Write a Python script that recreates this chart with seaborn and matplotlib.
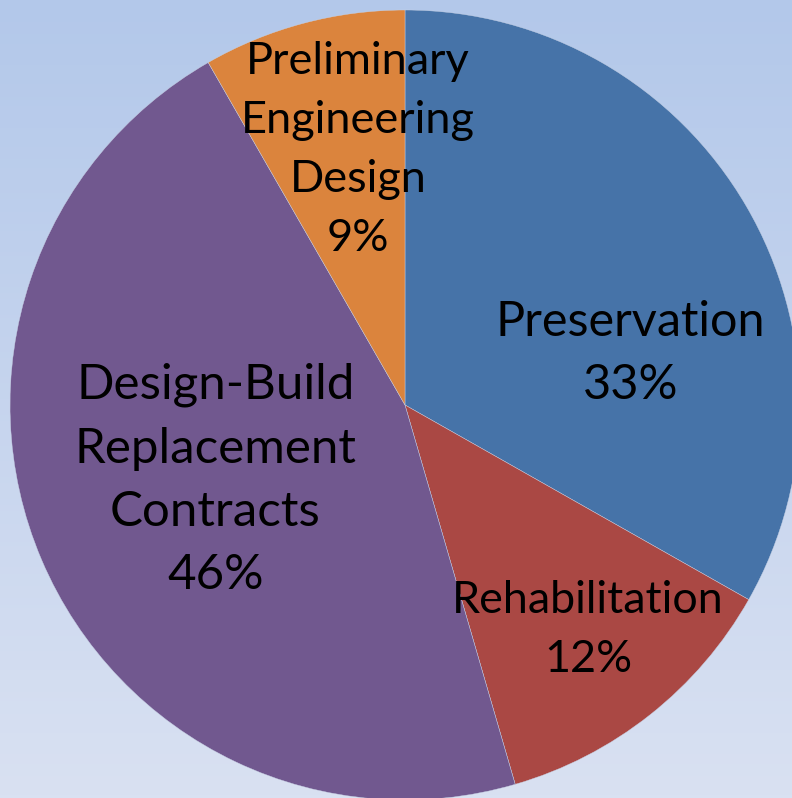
import matplotlib
matplotlib.use("Agg")
import matplotlib.pyplot as plt
import numpy as np
import seaborn as sns

# slice data, clockwise from 12 o'clock (shares measured from the wedge angles)
categories = ["Preservation", "Rehabilitation", "Design-Build\nReplacement\nContracts",
              "Preliminary\nEngineering\nDesign"]
shares = [33.2, 12.3, 46.2, 8.3]
pct_labels = ["33%", "12%", "46%", "9%"]
slice_colors = ["#4673A8", "#AA4844", "#71588F", "#DB843D"]

# where the labels sit (pie radius = 1) and how big
label_xy = [(0.57, 0.13), (0.463, -0.57), (-0.48, -0.19), (-0.119, 0.645)]
label_size = [35, 32.3, 35.5, 32.5]

sns.set_theme(style="white")
plt.rcParams["font.family"] = ["Lato", "DejaVu Sans"]

fig = plt.figure(figsize=(7.92, 7.98), dpi=100)

# soft blue gradient behind everything
bg = fig.add_axes([0, 0, 1, 1])
grad = np.linspace(0, 1, 256).reshape(-1, 1)
bg_cmap = matplotlib.colors.LinearSegmentedColormap.from_list("bg", ["#B3C8EA", "#D9E1F2"])
bg.imshow(grad, aspect="auto", cmap=bg_cmap, extent=[0, 1, 0, 1], origin="upper")
bg.set_axis_off()

# pie axes: centre at (405, 405) px from top-left, radius 395 px
W, H = 792, 798
cx, cy, r = 405, 405, 395
ax = fig.add_axes([(cx - r) / W, (H - cy - r) / H, 2 * r / W, 2 * r / H])
ax.patch.set_alpha(0)

palette = sns.color_palette(slice_colors)
wedges, _ = ax.pie(shares, colors=palette, startangle=90, counterclock=False,
                   wedgeprops={"linewidth": 0.3, "edgecolor": "#C9D3E6"})
for w in wedges:
    w.set_clip_on(False)
ax.set_xlim(-1, 1)
ax.set_ylim(-1, 1)
ax.set_aspect("auto")
ax.set_axis_off()

for name, pct, (x, y), fs in zip(categories, pct_labels, label_xy, label_size):
    ax.text(x, y, f"{name}\n{pct}", ha="center", va="center", fontsize=fs,
            linespacing=1.54, color="black")

fig.savefig("out.png", dpi=100)
